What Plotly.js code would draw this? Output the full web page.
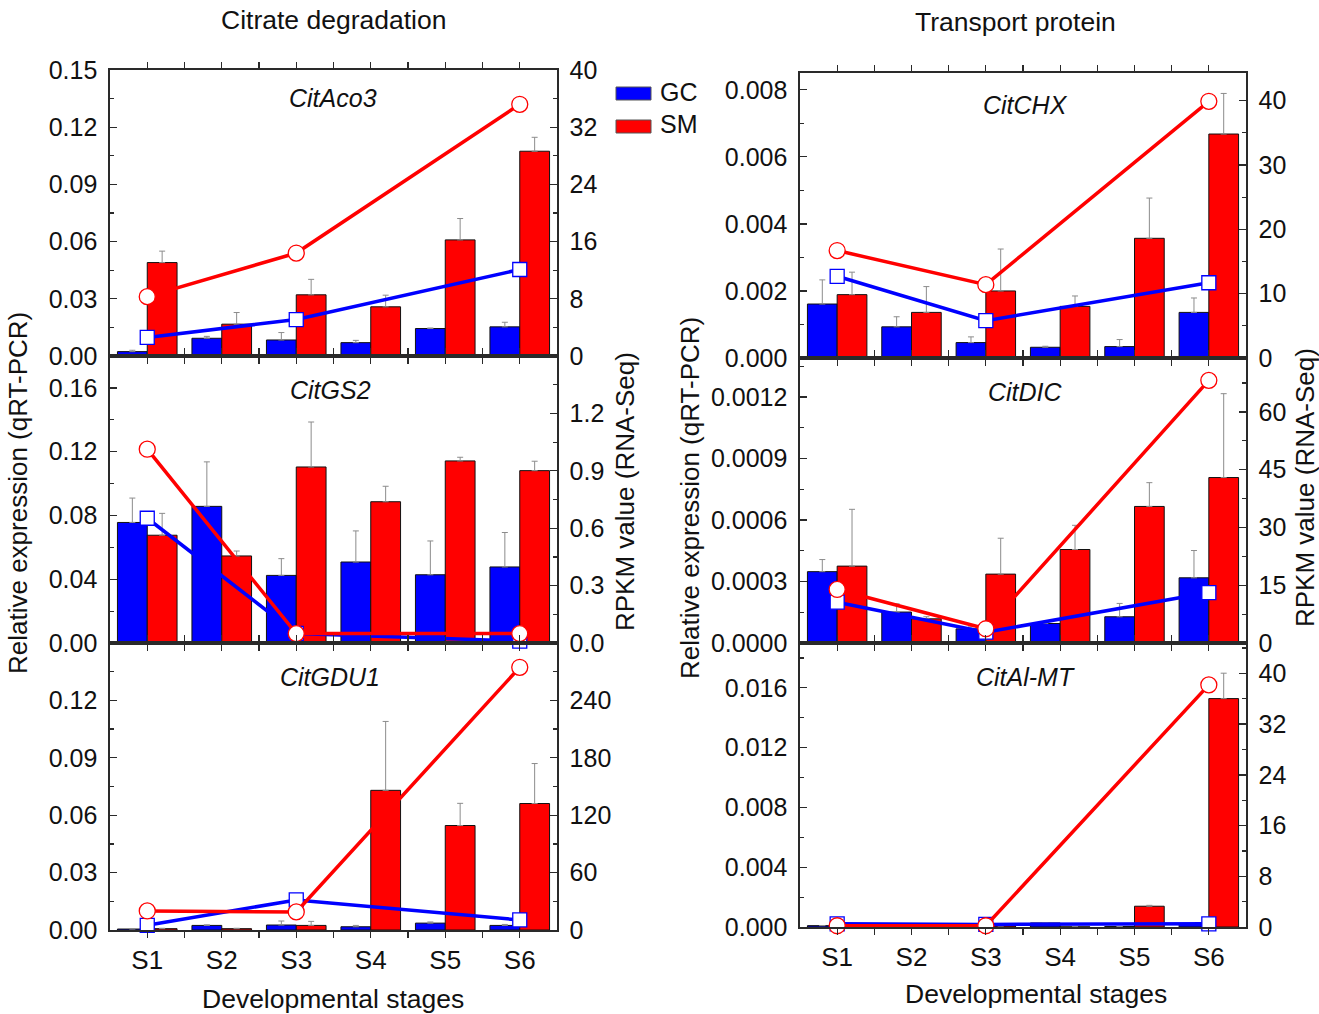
<!DOCTYPE html>
<html>
<head>
<meta charset="utf-8">
<script src="https://cdn.plot.ly/plotly-3.0.1.min.js"></script>
<style>html,body{margin:0;padding:0;background:#fff;}#chart{width:1319px;height:1014px;}</style>
</head>
<body>
<div id="chart"></div>
<script>
// ---------------- DATA ----------------
const stages = ['S1', 'S2', 'S3', 'S4', 'S5', 'S6'];
const rnaStages = ['S1', 'S3', 'S6'];
const seriesNames = ['GC', 'SM'];
const geneNames = ['CitAco3', 'CitGS2', 'CitGDU1', 'CitCHX', 'CitDIC', 'CitAl-MT'];

// qRT-PCR (bars, left axis) and error (upper), RNA-Seq RPKM (lines, right axis)
const citAco3_GC_qpcr = [0.0023, 0.0093, 0.0084, 0.0070, 0.0144, 0.0153];
const citAco3_GC_err  = [0.0007, 0.0010, 0.0039, 0.0012, 0.0003, 0.0024];
const citAco3_SM_qpcr = [0.0490, 0.0167, 0.0321, 0.0258, 0.0609, 0.1074];
const citAco3_SM_err  = [0.0060, 0.0061, 0.0081, 0.0061, 0.0112, 0.0073];
const citAco3_GC_rpkm = [2.6, 5.1, 12.1];
const citAco3_SM_rpkm = [8.3, 14.4, 35.2];

const citGS2_GC_qpcr = [0.0756, 0.0857, 0.0424, 0.0508, 0.0428, 0.0477];
const citGS2_GC_err  = [0.0153, 0.0279, 0.0105, 0.0195, 0.0212, 0.0216];
const citGS2_SM_qpcr = [0.0676, 0.0546, 0.1104, 0.0886, 0.1142, 0.1081];
const citGS2_SM_err  = [0.0137, 0.0031, 0.0282, 0.0097, 0.0023, 0.0059];
const citGS2_GC_rpkm = [0.652, 0.05, 0.01];
const citGS2_SM_rpkm = [1.013, 0.049, 0.049];

const citGDU1_GC_qpcr = [0.0005, 0.0024, 0.0026, 0.0017, 0.0036, 0.0024];
const citGDU1_GC_err  = [0.0002, 0.0003, 0.0021, 0.0007, 0.0006, 0.0005];
const citGDU1_SM_qpcr = [0.0007, 0.0007, 0.0024, 0.0730, 0.0546, 0.0661];
const citGDU1_SM_err  = [0.0002, 0.0002, 0.0021, 0.0360, 0.0116, 0.0209];
const citGDU1_GC_rpkm = [4.9, 31.4, 10.5];
const citGDU1_SM_rpkm = [19.9, 18.9, 274.6];

const citCHX_GC_qpcr = [0.00161, 0.00093, 0.00046, 0.00032, 0.00034, 0.00136];
const citCHX_GC_err  = [0.00072, 0.00030, 0.00017, 0.00003, 0.00021, 0.00043];
const citCHX_SM_qpcr = [0.00189, 0.00136, 0.00200, 0.00154, 0.00357, 0.00668];
const citCHX_SM_err  = [0.00067, 0.00077, 0.00125, 0.00031, 0.00120, 0.00121];
const citCHX_GC_rpkm = [12.7, 5.8, 11.7];
const citCHX_SM_rpkm = [16.7, 11.4, 39.9];

const citDIC_GC_qpcr = [0.000348, 0.000151, 0.000069, 0.000095, 0.000128, 0.000318];
const citDIC_GC_err  = [0.000059, 0.000040, 0.000010, 0.000010, 0.000065, 0.000133];
const citDIC_SM_qpcr = [0.000375, 0.000118, 0.000336, 0.000456, 0.000666, 0.000807];
const citDIC_SM_err  = [0.000277, 0.000010, 0.000175, 0.000118, 0.000116, 0.000409];
const citDIC_GC_rpkm = [10.6, 2.8, 13.1];
const citDIC_SM_rpkm = [13.9, 3.7, 68.2];

const citAlMT_GC_qpcr = [0.00009, 0.00007, 0.00007, 0.00027, 0.00003, 0.00018];
const citAlMT_GC_err  = [0.00001, 0.00001, 0.00001, 0.00001, 0.00001, 0.00001];
const citAlMT_SM_qpcr = [0.00009, 0.00007, 0.00007, 0.00001, 0.00139, 0.01528];
const citAlMT_SM_err  = [0.00001, 0.00001, 0.00001, 0.00000, 0.00006, 0.00170];
const citAlMT_GC_rpkm = [0.5, 0.4, 0.5];
const citAlMT_SM_rpkm = [0.2, 0.2, 38.2];

// tick labels per panel (left = qRT-PCR, right = RPKM)
const ticksL1 = ['0.00', '0.03', '0.06', '0.09', '0.12', '0.15'];
const ticksR1 = ['0', '8', '16', '24', '32', '40'];
const ticksL2 = ['0.00', '0.04', '0.08', '0.12', '0.16'];
const ticksR2 = ['0.0', '0.3', '0.6', '0.9', '1.2'];
const ticksL3 = ['0.00', '0.03', '0.06', '0.09', '0.12'];
const ticksR3 = ['0', '60', '120', '180', '240'];
const ticksL4 = ['0.000', '0.002', '0.004', '0.006', '0.008'];
const ticksR4 = ['0', '10', '20', '30', '40'];
const ticksL5 = ['0.0000', '0.0003', '0.0006', '0.0009', '0.0012'];
const ticksR5 = ['0', '15', '30', '45', '60'];
const ticksL6 = ['0.000', '0.004', '0.008', '0.012', '0.016'];
const ticksR6 = ['0', '8', '16', '24', '32', '40'];

// ---------------- BUILD ----------------
const W = 1319, H = 1014;
const FONT = 'Liberation Sans, Arial, Helvetica, sans-serif';
const BLUE = '#0000ff', RED = '#ff0000', FRAME = '#2a2a2a', TXT = '#111111';
const px = v => v / W;
const py = v => 1 - v / H;

const panelData = [
  {gc: citAco3_GC_qpcr, gce: citAco3_GC_err, sm: citAco3_SM_qpcr, sme: citAco3_SM_err, gcr: citAco3_GC_rpkm, smr: citAco3_SM_rpkm, tl: ticksL1, tr: ticksR1},
  {gc: citGS2_GC_qpcr, gce: citGS2_GC_err, sm: citGS2_SM_qpcr, sme: citGS2_SM_err, gcr: citGS2_GC_rpkm, smr: citGS2_SM_rpkm, tl: ticksL2, tr: ticksR2},
  {gc: citGDU1_GC_qpcr, gce: citGDU1_GC_err, sm: citGDU1_SM_qpcr, sme: citGDU1_SM_err, gcr: citGDU1_GC_rpkm, smr: citGDU1_SM_rpkm, tl: ticksL3, tr: ticksR3},
  {gc: citCHX_GC_qpcr, gce: citCHX_GC_err, sm: citCHX_SM_qpcr, sme: citCHX_SM_err, gcr: citCHX_GC_rpkm, smr: citCHX_SM_rpkm, tl: ticksL4, tr: ticksR4},
  {gc: citDIC_GC_qpcr, gce: citDIC_GC_err, sm: citDIC_SM_qpcr, sme: citDIC_SM_err, gcr: citDIC_GC_rpkm, smr: citDIC_SM_rpkm, tl: ticksL5, tr: ticksR5},
  {gc: citAlMT_GC_qpcr, gce: citAlMT_GC_err, sm: citAlMT_SM_qpcr, sme: citAlMT_SM_err, gcr: citAlMT_GC_rpkm, smr: citAlMT_SM_rpkm, tl: ticksL6, tr: ticksR6}
];

// geometry / axis settings (pixels and ranges)
const panelGeom = [
  {x0: 110, x1: 557, y0: 70,  y1: 356, rl: [0, 0.15],    rr: [0, 40],   bottom: false, gx: 333, gy: 98},
  {x0: 110, x1: 557, y0: 356, y1: 643, rl: [0, 0.18],    rr: [0, 1.5],  bottom: false, gx: 330, gy: 390},
  {x0: 110, x1: 557, y0: 643, y1: 930, rl: [0, 0.15],    rr: [0, 300],  bottom: true,  gx: 330, gy: 677, xstand: 0},
  {x0: 800, x1: 1246, y0: 73, y1: 358, rl: [0, 0.0085],  rr: [0, 44.3], bottom: false, gx: 1025, gy: 105},
  {x0: 800, x1: 1246, y0: 358, y1: 643, rl: [0, 0.00139], rr: [0, 74], bottom: false, gx: 1025, gy: 392},
  {x0: 800, x1: 1246, y0: 643, y1: 927, rl: [0, 0.019],  rr: [0, 44.8], bottom: true,  gx: 1025, gy: 677, xstand: 0}
];

const catIdx = stages.map((s, i) => i);
const rnaIdx = rnaStages.map(s => stages.indexOf(s));

const traces = [];
const layout = {
  width: W, height: H,
  margin: {l: 0, r: 0, t: 0, b: 0},
  paper_bgcolor: '#fff', plot_bgcolor: 'rgba(0,0,0,0)',
  showlegend: false,
  font: {family: FONT, size: 25, color: TXT},
  barmode: 'group',
  annotations: [],
  shapes: []
};

function tickVals(labels) { return labels.map(Number); }
function minorVals(vals) {
  const out = [];
  for (let k = 0; k < vals.length - 1; k++) out.push((vals[k] + vals[k + 1]) / 2);
  const step = vals[1] - vals[0];
  out.push(vals[vals.length - 1] + step / 2);
  return out;
}

panelData.forEach((d, i) => {
  const g = panelGeom[i];
  const n = i + 1;
  const xa = 'x' + (n === 1 ? '' : n);
  const yl = 2 * n - 1, yr = 2 * n;
  const yla = 'y' + (yl === 1 ? '' : yl);
  const yra = 'y' + yr;

  const errBar = (err) => ({type: 'data', symmetric: false, array: err, arrayminus: err.map(() => 0),
                               color: '#8c8c8c', thickness: 1, width: 3, visible: true});

  traces.push({type: 'bar', name: seriesNames[0], x: catIdx, y: d.gc, xaxis: xa, yaxis: yla,
    width: 0.4, offset: -0.4, marker: {color: BLUE, line: {color: '#111', width: 1}},
    error_y: errBar(d.gce), hoverinfo: 'y'});
  traces.push({type: 'bar', name: seriesNames[1], x: catIdx, y: d.sm, xaxis: xa, yaxis: yla,
    width: 0.4, offset: 0, marker: {color: RED, line: {color: '#111', width: 1}},
    error_y: errBar(d.sme), hoverinfo: 'y'});
  traces.push({type: 'scatter', mode: 'lines+markers', name: seriesNames[0] + ' RNA-Seq', x: rnaIdx, y: d.gcr,
    xaxis: xa, yaxis: yra, cliponaxis: false,
    line: {color: BLUE, width: 3.5},
    marker: {symbol: 'square', size: 14, color: '#fff', line: {color: BLUE, width: 1.3}}});
  traces.push({type: 'scatter', mode: 'lines+markers', name: seriesNames[1] + ' RNA-Seq', x: rnaIdx, y: d.smr,
    xaxis: xa, yaxis: yra, cliponaxis: false,
    line: {color: RED, width: 3.5},
    marker: {symbol: 'circle', size: 16, color: '#fff', line: {color: RED, width: 1.3}}});

  const xTickVals = [], xTickText = [];
  stages.forEach((s, k) => {
    xTickVals.push(k); xTickText.push(s);
    if (k < stages.length - 1) { xTickVals.push(k + 0.5); xTickText.push(''); }
  });

  layout['xaxis' + (n === 1 ? '' : n)] = {
    domain: [px(g.x0), px(g.x1)], anchor: yla, range: [-0.5, 5.5],
    tickmode: 'array', tickvals: xTickVals, ticktext: xTickText,
    showticklabels: g.bottom, ticks: 'outside', ticklen: 6, tickwidth: 1.3, tickcolor: FRAME,
    showline: true, linecolor: FRAME, linewidth: 1.6, mirror: 'ticks',
    showgrid: false, zeroline: false, fixedrange: true,
    tickfont: {size: 26, family: FONT, color: TXT}
  };
  const lv = tickVals(d.tl), rv = tickVals(d.tr);
  layout['yaxis' + (yl === 1 ? '' : yl)] = {
    domain: [py(g.y1), py(g.y0)], anchor: xa, range: g.rl,
    tickmode: 'array', tickvals: lv, ticktext: d.tl,
    ticks: 'inside', ticklen: 7, tickwidth: 1.3, tickcolor: FRAME,
    minor: {tickmode: 'array', tickvals: minorVals(lv).filter(v => v < g.rl[1]), ticks: 'inside', ticklen: 4, tickwidth: 1.2, tickcolor: FRAME},
    showline: true, linecolor: FRAME, linewidth: 1.6,
    showgrid: false, zeroline: false, fixedrange: true, ticklabelstandoff: 6,
    tickfont: {size: 25, family: FONT, color: TXT}
  };
  layout['yaxis' + yr] = {
    domain: [py(g.y1), py(g.y0)], anchor: xa, overlaying: yla, side: 'right', range: g.rr,
    tickmode: 'array', tickvals: rv, ticktext: d.tr,
    ticks: 'inside', ticklen: 7, tickwidth: 1.3, tickcolor: FRAME,
    minor: {tickmode: 'array', tickvals: minorVals(rv).filter(v => v < g.rr[1]), ticks: 'inside', ticklen: 4, tickwidth: 1.2, tickcolor: FRAME},
    showline: true, linecolor: FRAME, linewidth: 1.6,
    showgrid: false, zeroline: false, fixedrange: true, ticklabelstandoff: 6,
    tickfont: {size: 25, family: FONT, color: TXT}
  };

  layout.annotations.push({xref: 'paper', yref: 'paper', x: px(g.gx), y: py(g.gy), xanchor: 'center', yanchor: 'middle',
    text: '<i>' + geneNames[i] + '</i>', showarrow: false, font: {size: 25, family: FONT, color: TXT}});
});

// titles and axis titles
const textAnn = [
  {t: 'Citrate degradation', x: 333, y: 20, a: 0, s: 26.5},
  {t: 'Transport protein', x: 1015, y: 22, a: 0, s: 26.5},
  {t: 'Developmental stages', x: 333, y: 999, a: 0, s: 26.5},
  {t: 'Developmental stages', x: 1036, y: 994, a: 0, s: 26.5},
  {t: 'Relative expression (qRT-PCR)', x: 18, y: 493, a: -90, s: 26},
  {t: 'RPKM value (RNA-Seq)', x: 625, y: 492, a: -90, s: 26},
  {t: 'Relative expression (qRT-PCR)', x: 690, y: 498, a: -90, s: 26},
  {t: 'RPKM value (RNA-Seq)', x: 1305, y: 488, a: -90, s: 26}
];
textAnn.forEach(o => layout.annotations.push({xref: 'paper', yref: 'paper', x: px(o.x), y: py(o.y),
  xanchor: 'center', yanchor: 'middle', text: o.t, textangle: o.a, showarrow: false,
  font: {size: o.s, family: FONT, color: TXT}}));

// legend (swatches + labels)
[[BLUE, 87, 92, seriesNames[0]], [RED, 120, 124, seriesNames[1]]].forEach(([c, top, ty, label]) => {
  layout.shapes.push({type: 'rect', xref: 'paper', yref: 'paper', x0: px(616), x1: px(651), y0: py(top + 13), y1: py(top),
    fillcolor: c, line: {color: '#555', width: 1}});
  layout.annotations.push({xref: 'paper', yref: 'paper', x: px(658), y: py(ty), xanchor: 'left', yanchor: 'middle',
    text: label, showarrow: false, font: {size: 25, family: FONT, color: TXT}});
});

Plotly.newPlot('chart', traces, layout, {staticPlot: true, displayModeBar: false});
</script>
</body>
</html>
